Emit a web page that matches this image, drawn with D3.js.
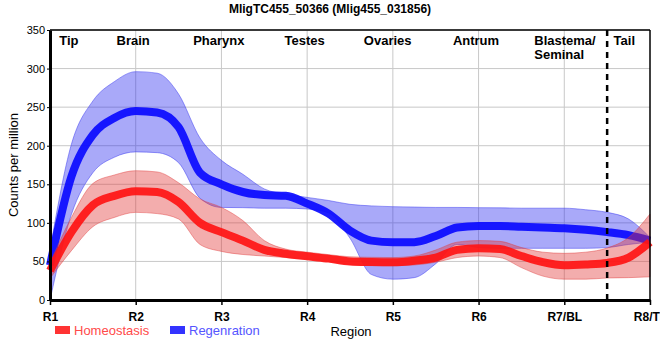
<!DOCTYPE html>
<html>
<head>
<meta charset="utf-8">
<script src="https://cdn.jsdelivr.net/npm/d3@7"></script>
<style>
  body { margin: 0; background: #fff; }
  svg { font-family: "Liberation Sans", Arial, sans-serif; }
</style>
</head>
<body>
<svg id="chart" width="660" height="360"></svg>
<script>
// x positions along the body (0 = R1 ... 7 = R8/TL), quarter steps
const positions = [0, 0.25, 0.5, 0.75, 1, 1.25, 1.5, 1.75, 2, 2.25, 2.5, 2.75, 3, 3.25, 3.5,
    3.75, 4, 4.25, 4.5, 4.75, 5, 5.25, 5.5, 5.75, 6, 6.25, 6.5, 6.75, 7];

const regenMean = [45, 160, 214, 236, 245, 243, 224, 165, 150, 140, 136, 135, 125, 112, 90,
    77, 75, 75, 83, 94, 96, 96, 95, 94, 93, 91, 88, 84, 77];
const regenUpper = [65, 202, 258, 283, 296, 294, 267, 210, 181, 163, 144, 137, 133, 129, 124,
    122, 121, 120.5, 120, 120, 119.7, 119.5, 119, 119, 119, 117, 113.6, 105, 81];
const regenLower = [0, 111, 165, 185, 192, 191, 178, 132, 120, 119.7, 119, 119, 118, 113, 80,
    33, 27, 29, 47, 72, 68, 67, 67, 67, 67, 67, 68, 72, 75];

const homeoMean = [38, 88, 123, 135, 141, 140, 127, 100, 88, 77, 65, 60, 56.6, 53.6, 50,
    49.3, 49, 51, 55, 65, 67, 66, 57, 49, 45, 46, 48, 55, 75];
const homeoUpper = [48, 107, 151, 162, 167.6, 166, 152, 131, 120, 103, 77, 66, 62, 58.8, 56,
    55.3, 55, 57, 64.8, 75, 77, 76, 68, 62, 60.5, 62, 67.4, 81, 111.5];
const homeoLower = [28, 64, 95, 107, 113.6, 112, 105, 72, 63, 59, 57, 55, 53, 50, 46,
    44.5, 44.5, 45.4, 49, 55, 57, 55, 42, 31, 27, 27, 28.5, 29, 30];

const regionTicks = ['R1', 'R2', 'R3', 'R4', 'R5', 'R6', 'R7/BL', 'R8/TL'];
const yTicks = [0, 50, 100, 150, 200, 250, 300, 350];
const tissues = [
    { name: ['Tip'], at: 0.22, anchor: 'middle' },
    { name: ['Brain'], at: 0.97, anchor: 'middle' },
    { name: ['Pharynx'], at: 1.97, anchor: 'middle' },
    { name: ['Testes'], at: 2.97, anchor: 'middle' },
    { name: ['Ovaries'], at: 3.94, anchor: 'middle' },
    { name: ['Antrum'], at: 4.97, anchor: 'middle' },
    { name: ['Blastema/', 'Seminal'], at: 5.65, anchor: 'start' },
    { name: ['Tail'], at: 6.7, anchor: 'middle' }
];
const tailBoundary = 6.5;

const margin = { top: 30, right: 10, bottom: 60, left: 50 };
const svgWidth = 660;
const svgHeight = 360;
const width = svgWidth - margin.left - margin.right;
const height = svgHeight - margin.top - margin.bottom;

const svg = d3.select('#chart');
const g = svg.append('g')
    .attr('transform', `translate(${margin.left}, ${margin.top})`);

const xScale = d3.scaleLinear().domain([0, 7]).range([0, width]);
const yScale = d3.scaleLinear().domain([0, 350]).range([height, 0]);

// title
svg.append('text')
    .attr('x', 330)
    .attr('y', 13)
    .attr('text-anchor', 'middle')
    .style('font-size', '12px')
    .style('font-weight', 'bold')
    .text('MligTC455_50366 (Mlig455_031856)');

// grid
g.append('g')
    .selectAll('line')
    .data(yTicks.slice(1))
    .enter()
    .append('line')
    .attr('x1', 0).attr('x2', width)
    .attr('y1', d => yScale(d)).attr('y2', d => yScale(d))
    .attr('stroke', '#c8c8c8');

g.append('g')
    .selectAll('line')
    .data(d3.range(1, 7))
    .enter()
    .append('line')
    .attr('x1', d => xScale(d)).attr('x2', d => xScale(d))
    .attr('y1', 0).attr('y2', height)
    .attr('stroke', '#c8c8c8');

// bands and lines
const area = (lo, hi) => d3.area()
    .x((d, i) => xScale(positions[i]))
    .y0((d, i) => yScale(lo[i]))
    .y1((d, i) => yScale(hi[i]))
    .curve(d3.curveMonotoneX);

const line = vals => d3.line()
    .x((d, i) => xScale(positions[i]))
    .y((d, i) => yScale(vals[i]))
    .curve(d3.curveMonotoneX);

g.append('path')
    .datum(positions)
    .attr('d', area(regenLower, regenUpper))
    .attr('fill', 'rgba(40, 40, 240, 0.4)')
    .attr('stroke', 'rgba(60, 60, 240, 0.5)');

g.append('path')
    .datum(positions)
    .attr('d', line(regenMean))
    .attr('fill', 'none')
    .attr('stroke', 'rgba(10, 10, 255, 0.92)')
    .attr('stroke-width', 8);

g.append('path')
    .datum(positions)
    .attr('d', area(homeoLower, homeoUpper))
    .attr('fill', 'rgba(225, 50, 50, 0.4)')
    .attr('stroke', 'rgba(225, 60, 60, 0.45)');

g.append('path')
    .datum(positions)
    .attr('d', line(homeoMean))
    .attr('fill', 'none')
    .attr('stroke', 'rgba(255, 20, 20, 0.92)')
    .attr('stroke-width', 8);

// frame
g.append('line').attr('x1', 0).attr('x2', width).attr('y1', 0).attr('y2', 0)
    .attr('stroke', '#000').attr('stroke-width', 1.5);
g.append('line').attr('x1', width).attr('x2', width).attr('y1', 0).attr('y2', height)
    .attr('stroke', '#000').attr('stroke-width', 1.5);

// axes
const xAxis = d3.axisBottom(xScale)
    .tickValues(d3.range(0, 8))
    .tickFormat(i => regionTicks[i])
    .tickSize(5)
    .tickSizeOuter(0);

const xg = g.append('g')
    .attr('transform', `translate(0, ${height})`)
    .call(xAxis);
xg.select('.domain').attr('stroke-width', 3);
xg.selectAll('.tick line').attr('stroke-width', 1.5);
xg.selectAll('text')
    .attr('dy', '1.05em')
    .style('font-size', '12px')
    .style('font-weight', 'bold')
    .style('font-family', '"Liberation Sans", Arial, sans-serif');

const yAxis = d3.axisLeft(yScale)
    .tickValues(yTicks)
    .tickSize(3)
    .tickSizeOuter(0);

const yg = g.append('g').call(yAxis);
yg.select('.domain').attr('stroke-width', 3);
yg.selectAll('text')
    .attr('x', -5)
    .style('font-size', '11px')
    .style('font-family', '"Liberation Sans", Arial, sans-serif');

// tail boundary
g.append('line')
    .attr('x1', xScale(tailBoundary)).attr('x2', xScale(tailBoundary))
    .attr('y1', 0).attr('y2', height + 5)
    .attr('stroke', '#000')
    .attr('stroke-width', 2.5)
    .attr('stroke-dasharray', '6,5');

// tissue labels
const tl = g.append('g')
    .selectAll('text')
    .data(tissues)
    .enter()
    .append('text')
    .attr('text-anchor', d => d.anchor)
    .style('font-size', '13px')
    .style('font-weight', 'bold');

tl.each(function (d) {
    const t = d3.select(this);
    d.name.forEach((n, k) => {
        t.append('tspan')
            .attr('x', xScale(d.at))
            .attr('y', 15 + k * 14)
            .text(n);
    });
});

// axis titles
svg.append('text')
    .attr('transform', 'rotate(-90)')
    .attr('x', -(margin.top + height / 2))
    .attr('y', 18)
    .attr('text-anchor', 'middle')
    .style('font-size', '13px')
    .text('Counts per million');

svg.append('text')
    .attr('x', 351)
    .attr('y', 336)
    .attr('text-anchor', 'middle')
    .style('font-size', '13px')
    .text('Region');

// legend
const legend = [
    { label: 'Homeostasis', swatch: '#ff3333', text: '#ff4a4a', x: 55 },
    { label: 'Regenration', swatch: '#3333ff', text: '#5555ff', x: 170 }
];
const lg = svg.append('g')
    .selectAll('g')
    .data(legend)
    .enter()
    .append('g')
    .attr('transform', d => `translate(${d.x}, 326)`);
lg.append('rect')
    .attr('width', 15).attr('height', 8)
    .attr('fill', d => d.swatch);
lg.append('text')
    .attr('x', 19)
    .attr('y', 9)
    .style('font-size', '13px')
    .attr('fill', d => d.text)
    .text(d => d.label);
</script>
</body>
</html>
